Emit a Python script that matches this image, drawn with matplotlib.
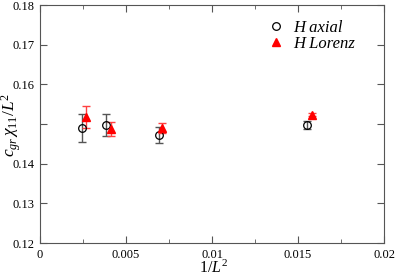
import matplotlib
matplotlib.use("Agg")
import matplotlib.pyplot as plt
from matplotlib.ticker import MultipleLocator

plt.rcParams['font.family'] = ['Liberation Serif', 'DejaVu Serif']
plt.rcParams['mathtext.fontset'] = 'custom'
plt.rcParams['mathtext.it'] = 'Liberation Serif:italic'
plt.rcParams['mathtext.rm'] = 'Liberation Serif'

x_axial = [0.00244, 0.00384, 0.00690, 0.01550]
y_axial = [0.1490, 0.1498, 0.1473, 0.1498]
e_axial = [0.0035, 0.0027, 0.0020, 0.0010]

x_lor = [0.00270, 0.00410, 0.00710, 0.01580]
y_lor = [0.1518, 0.1488, 0.1490, 0.1523]
e_lor = [0.0028, 0.0017, 0.0012, 0.0004]

xticks = [0, 0.005, 0.01, 0.015, 0.02]
xticklabels = ['0', '0.005', '0.01', '0.015', '0.02']
yticks = [0.12, 0.13, 0.14, 0.15, 0.16, 0.17, 0.18]
yticklabels = ['0.12', '0.13', '0.14', '', '0.16', '0.17', '0.18']

fig = plt.figure(figsize=(3.95, 2.76), dpi=100)
ax = fig.add_axes([40/395, 1-243/276, 344/395, 238/276])

ax.errorbar(x_axial, y_axial, yerr=e_axial, fmt='none',
            ecolor='#555555', elinewidth=1, capsize=3, capthick=1, zorder=2)
ax.plot(x_axial, y_axial, 'o', mfc='none', mec='black', ms=5.5, mew=0.9,
        label='H axial', zorder=3)
ax.errorbar(x_lor, y_lor, yerr=e_lor, fmt='none',
            ecolor='#ff4040', elinewidth=1, capsize=3, capthick=1, zorder=2)
ax.plot(x_lor, y_lor, '^', mfc='red', mec='red', ms=6,
        label='H Lorenz', zorder=4)

ax.set_xlim(0, 0.02)
ax.set_ylim(0.12, 0.18)
ax.set_xticks(xticks)
ax.set_xticklabels(xticklabels)
ax.xaxis.set_minor_locator(MultipleLocator(0.0025))
ax.set_yticks(yticks)
ax.set_yticklabels(yticklabels)
ax.tick_params(which='both', direction='in', top=True, right=True, labelsize=9,
               color='#555555', pad=4)
ax.tick_params(which='major', length=5)
ax.tick_params(which='minor', length=3)
for s in ax.spines.values():
    s.set_color('#555555')

ax.set_xlabel(r'$1/L^2$', fontsize=11.5)
ax.xaxis.set_label_coords((214-40)/344, (243-260)/238)
ax.set_ylabel(r'$c_{gr}\,\chi_{11}/L^2$', fontsize=12.5)
ax.yaxis.set_label_coords((23-40)/344, (243-125)/238)

leg = ax.legend(loc='upper left', bbox_to_anchor=((268-40)/344, (243-20)/238),
                frameon=False, prop={'style': 'italic', 'size': 12},
                handletextpad=0.5, labelspacing=0.0, handlelength=1.0,
                borderpad=0.0, borderaxespad=0.0)

fig.savefig('out.png', dpi=100)
